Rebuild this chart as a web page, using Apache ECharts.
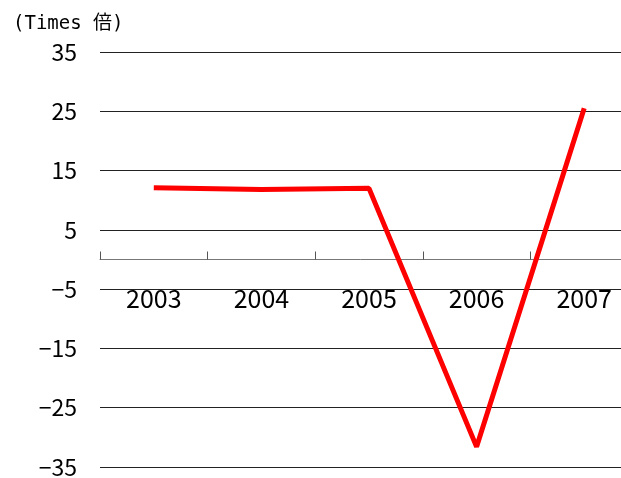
<!DOCTYPE html>
<html>
<head>
<meta charset="utf-8">
<script src="https://cdn.jsdelivr.net/npm/echarts@6/dist/echarts.min.js"></script>
<style>
  html, body {margin: 0; padding: 0; background: #fff;}
  #chart {width: 621px; height: 478px;}
</style>
</head>
<body>
<div id="chart"></div>
<script>
const years = ['2003', '2004', '2005', '2006', '2007']
const times = [12.1, 11.8, 12.0, -31.6, 25.5]
const unitLabel = '(Times 倍)'

const font = '"Noto Sans CJK JP", "Noto Sans", sans-serif'
const chart = echarts.init(document.getElementById('chart'))
const option = {
  animation: false,
  title: {
    text: unitLabel,
    left: 8,
    top: 10,
    textStyle: {
      fontFamily: '"DejaVu Sans Mono", "Noto Sans CJK JP", monospace',
      fontSize: 19,
      fontWeight: 'normal',
      color: '#000'
    }
  },
  grid: {
    top: 52,
    left: 100,
    right: -17,
    bottom: 11,
    containLabel: false,
    outerBoundsMode: 'none'
  },
  xAxis: {
    type: 'category',
    data: years,
    position: 'bottom',
    // axis sits on the zero line, half way down the plot
    offset: -207.5,
    boundaryGap: true,
    axisLine: {onZero: false, lineStyle: {color: '#777', width: 1}},
    axisTick: {show: true, inside: true, length: 8, lineStyle: {color: '#555'}},
    axisLabel: {
      margin: 26,
      fontFamily: font,
      fontSize: 25,
      color: '#000'
    },
    splitLine: {show: false}
  },
  yAxis: {
    type: 'value',
    min: -35,
    max: 35,
    interval: 10,
    axisLine: {show: false},
    axisTick: {show: false},
    axisLabel: {
      margin: 23,
      fontFamily: font,
      fontSize: 23,
      color: '#000',
      formatter: function (v) {
        return v < 0 ? '\u2212' + Math.abs(v) : String(v)
      }
    },
    splitLine: {lineStyle: {color: '#222', width: 1}}
  },
  series: [
    {
      type: 'line',
      data: times,
      symbol: 'none',
      lineStyle: {color: '#ff0000', width: 5}
    }
  ]
}
chart.setOption(option)
</script>
</body>
</html>
